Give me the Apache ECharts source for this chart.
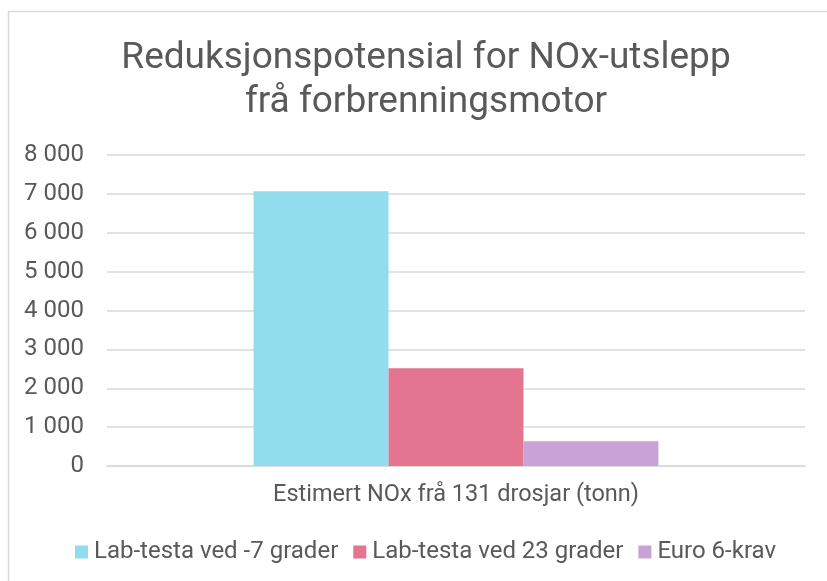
<!DOCTYPE html>
<html><head><meta charset="utf-8">
<script src="https://cdn.jsdelivr.net/npm/echarts@6/dist/echarts.min.js"></script>
<style>html,body{margin:0;padding:0;background:#fff}#c{width:827px;height:581px}</style>
</head><body><div id="c"></div>
<script>
const categories = ['Estimert NOx frå 131 drosjar (tonn)'];
const seriesNames = ['Lab-testa ved -7 grader', 'Lab-testa ved 23 grader', 'Euro 6-krav'];
const seriesValues = [[7070], [2515], [636]];
const seriesColors = ['#91dded', '#e37590', '#caa3d6'];
const yTicks = [0, 1000, 2000, 3000, 4000, 5000, 6000, 7000, 8000];

const chart = echarts.init(document.getElementById('c'));
const fmt = v => String(v).replace(/\B(?=(\d{3})+(?!\d))/g, ' ');
chart.setOption({
  animation: false,
  textStyle: { fontFamily: 'Roboto' },
  graphic: [{ type: 'rect', shape: { x: 8.5, y: 11.5, width: 900, height: 700 }, style: { fill: 'none', stroke: '#d9d9d9', lineWidth: 1.5 } }],
  title: {
    text: 'Reduksjonspotensial for NOx-utslepp\nfrå forbrenningsmotor',
    left: 421, top: 32, textAlign: 'center',
    textStyle: { fontFamily: 'Roboto', fontSize: 37, fontWeight: 'normal', color: '#595959', lineHeight: 44 }
  },
  legend: {
    data: seriesNames, top: 535, left: 70,
    itemWidth: 13, itemHeight: 13, itemGap: 15, icon: 'rect',
    textStyle: { fontFamily: 'Roboto', fontSize: 24, color: '#595959', padding: [0, 0, 0, 1] }
  },
  grid: { left: 107, right: 22, top: 155, bottom: 115, containLabel: false },
  xAxis: {
    type: 'category', data: categories,
    axisLine: { lineStyle: { color: '#d9d9d9', width: 1.5 } },
    axisTick: { show: false },
    axisLabel: { fontFamily: 'Roboto', fontSize: 23.5, color: '#595959', margin: 17 }
  },
  yAxis: {
    type: 'value', min: yTicks[0], max: yTicks[yTicks.length - 1], interval: 1000,
    axisLine: { show: false }, axisTick: { show: false },
    splitLine: { lineStyle: { color: '#d9d9d9', width: 1.5 } },
    axisLabel: { fontFamily: 'Roboto', fontSize: 24, color: '#595959', margin: 23, formatter: fmt }
  },
  series: seriesNames.map((n, i) => ({
    name: n, type: 'bar', data: seriesValues[i],
    itemStyle: { color: seriesColors[i] },
    barGap: '0%', barCategoryGap: '42%'
  }))
});
</script></body></html>
